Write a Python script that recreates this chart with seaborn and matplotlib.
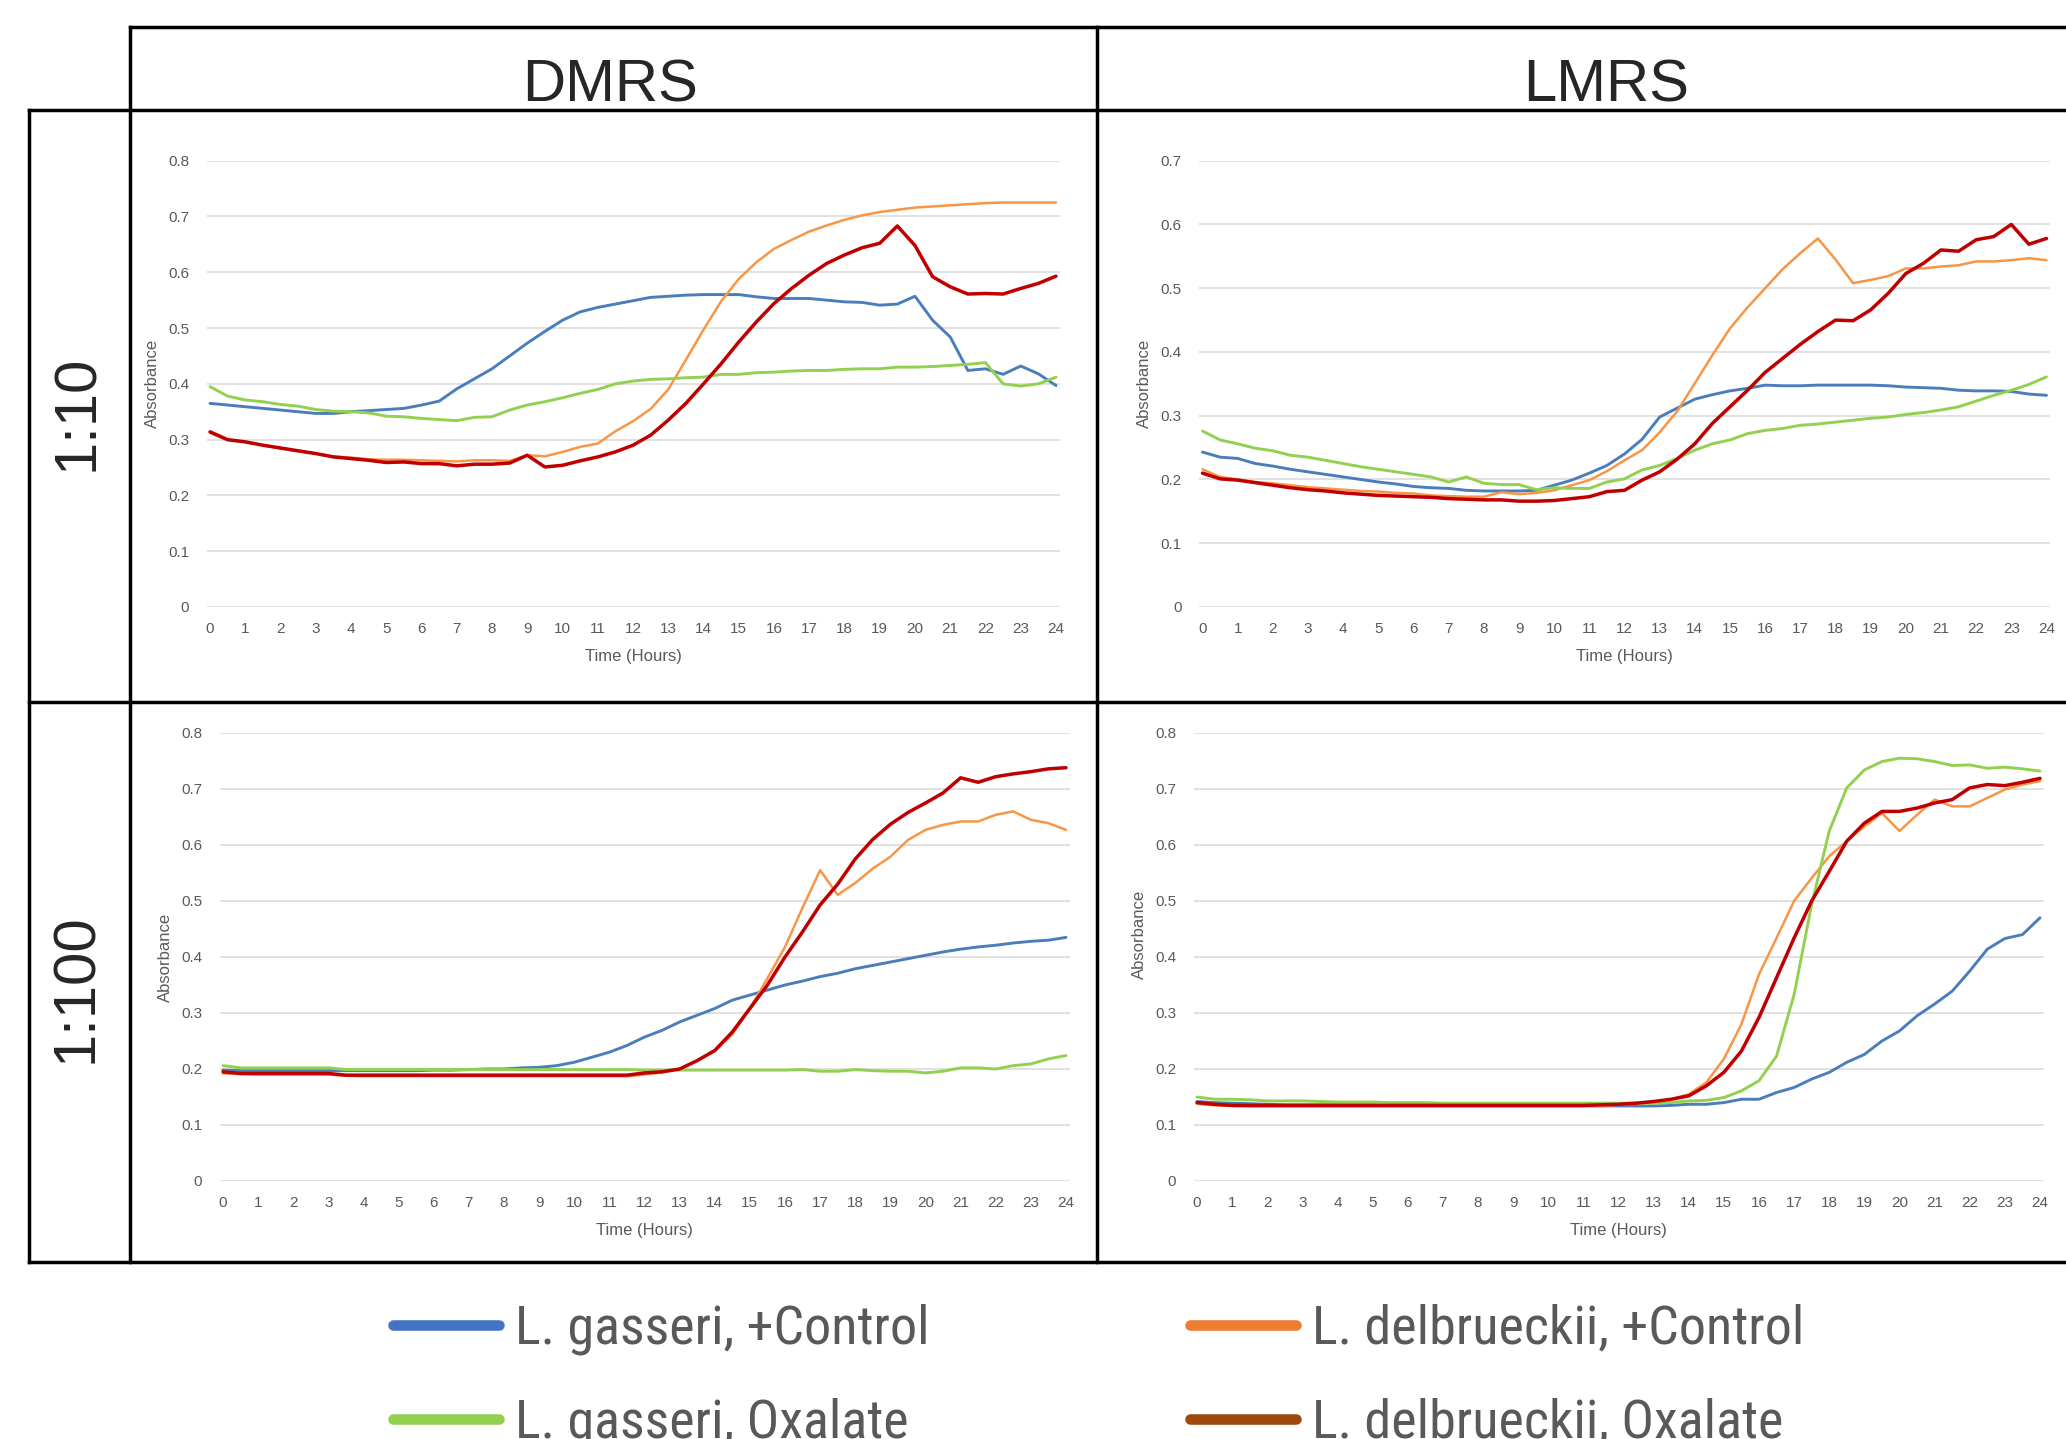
import numpy as np
import pandas as pd
import matplotlib
matplotlib.use("Agg")
import matplotlib.pyplot as plt
from matplotlib import font_manager
from matplotlib.font_manager import FontProperties
from matplotlib.lines import Line2D
import seaborn as sns

# Sampling grid (hours), readings every half hour
hours = np.arange(0, 24.5, 0.5)

series_names = ["L. gasseri, +Control", "L. delbrueckii, +Control",
                "L. gasseri, Oxalate", "L. delbrueckii, Oxalate"]

# DMRS, 1:10
blue_tl = [0.365, 0.362, 0.359, 0.356, 0.353, 0.350, 0.347, 0.347, 0.350, 0.352,
           0.354, 0.356, 0.362, 0.369, 0.391, 0.409, 0.427, 0.450, 0.473, 0.494,
           0.514, 0.529, 0.537, 0.543, 0.549, 0.555, 0.557, 0.559, 0.560, 0.560,
           0.560, 0.556, 0.553, 0.553, 0.553, 0.550, 0.547, 0.546, 0.541, 0.543,
           0.557, 0.514, 0.484, 0.424, 0.427, 0.417, 0.432, 0.418, 0.397]
orange_tl = [0.312, 0.299, 0.296, 0.290, 0.284, 0.279, 0.275, 0.270, 0.268, 0.265,
             0.264, 0.264, 0.263, 0.262, 0.261, 0.263, 0.263, 0.262, 0.272, 0.270,
             0.278, 0.287, 0.293, 0.315, 0.333, 0.355, 0.390, 0.443, 0.497, 0.548,
             0.588, 0.618, 0.642, 0.658, 0.673, 0.684, 0.694, 0.702, 0.708, 0.712,
             0.716, 0.718, 0.720, 0.722, 0.724, 0.725, 0.725, 0.725, 0.725]
green_tl = [0.395, 0.378, 0.371, 0.368, 0.363, 0.360, 0.354, 0.351, 0.350, 0.348,
            0.342, 0.341, 0.338, 0.336, 0.334, 0.340, 0.341, 0.353, 0.362, 0.368,
            0.375, 0.383, 0.390, 0.400, 0.405, 0.408, 0.409, 0.411, 0.412, 0.417,
            0.417, 0.420, 0.421, 0.423, 0.424, 0.424, 0.426, 0.427, 0.427, 0.430,
            0.430, 0.431, 0.433, 0.435, 0.438, 0.400, 0.396, 0.400, 0.412]
red_tl = [0.314, 0.300, 0.296, 0.290, 0.285, 0.280, 0.275, 0.269, 0.266, 0.263,
          0.259, 0.260, 0.257, 0.257, 0.253, 0.256, 0.256, 0.258, 0.272, 0.251,
          0.254, 0.262, 0.269, 0.278, 0.290, 0.308, 0.335, 0.365, 0.400, 0.436,
          0.475, 0.511, 0.544, 0.571, 0.595, 0.616, 0.631, 0.644, 0.652, 0.683,
          0.648, 0.592, 0.574, 0.561, 0.562, 0.561, 0.571, 0.580, 0.593]

# LMRS, 1:10
blue_tr = [0.243, 0.235, 0.233, 0.225, 0.221, 0.216, 0.212, 0.208, 0.204, 0.200,
           0.196, 0.193, 0.189, 0.187, 0.186, 0.183, 0.182, 0.182, 0.182, 0.183,
           0.191, 0.199, 0.210, 0.222, 0.240, 0.263, 0.298, 0.312, 0.326, 0.333,
           0.339, 0.343, 0.348, 0.347, 0.347, 0.348, 0.348, 0.348, 0.348, 0.347,
           0.345, 0.344, 0.343, 0.340, 0.339, 0.339, 0.338, 0.334, 0.332]
orange_tr = [0.216, 0.204, 0.200, 0.196, 0.194, 0.191, 0.188, 0.186, 0.184, 0.182,
             0.181, 0.179, 0.178, 0.175, 0.174, 0.173, 0.173, 0.180, 0.177, 0.179,
             0.183, 0.191, 0.199, 0.213, 0.230, 0.246, 0.274, 0.307, 0.351, 0.395,
             0.437, 0.470, 0.500, 0.530, 0.555, 0.578, 0.545, 0.508, 0.513, 0.519,
             0.531, 0.531, 0.534, 0.536, 0.542, 0.542, 0.544, 0.547, 0.544]
green_tr = [0.276, 0.262, 0.256, 0.249, 0.245, 0.238, 0.235, 0.230, 0.225, 0.220,
            0.216, 0.212, 0.208, 0.204, 0.196, 0.204, 0.194, 0.192, 0.192, 0.184,
            0.187, 0.186, 0.186, 0.196, 0.201, 0.215, 0.222, 0.233, 0.246, 0.256,
            0.262, 0.272, 0.277, 0.280, 0.285, 0.287, 0.290, 0.293, 0.296, 0.298,
            0.302, 0.305, 0.309, 0.314, 0.323, 0.332, 0.340, 0.349, 0.361]
red_tr = [0.210, 0.201, 0.199, 0.195, 0.191, 0.187, 0.184, 0.182, 0.179, 0.177,
          0.175, 0.174, 0.173, 0.172, 0.170, 0.169, 0.168, 0.168, 0.166, 0.166,
          0.167, 0.170, 0.173, 0.181, 0.183, 0.199, 0.212, 0.232, 0.256, 0.288,
          0.314, 0.340, 0.368, 0.390, 0.412, 0.432, 0.450, 0.449, 0.466, 0.492,
          0.523, 0.539, 0.560, 0.558, 0.576, 0.581, 0.600, 0.569, 0.578]

# DMRS, 1:100
blue_bl = [0.198, 0.197, 0.197, 0.197, 0.197, 0.197, 0.197, 0.197, 0.197, 0.197,
           0.197, 0.197, 0.198, 0.198, 0.199, 0.200, 0.200, 0.202, 0.203, 0.206,
           0.212, 0.221, 0.230, 0.242, 0.257, 0.269, 0.284, 0.296, 0.308, 0.323,
           0.332, 0.341, 0.350, 0.357, 0.365, 0.371, 0.379, 0.385, 0.391, 0.397,
           0.403, 0.409, 0.414, 0.418, 0.421, 0.425, 0.428, 0.430, 0.435]
orange_bl = [0.192, 0.191, 0.190, 0.190, 0.190, 0.190, 0.190, 0.188, 0.187, 0.187,
             0.187, 0.187, 0.187, 0.187, 0.187, 0.187, 0.187, 0.187, 0.187, 0.187,
             0.187, 0.187, 0.187, 0.187, 0.190, 0.194, 0.200, 0.215, 0.232, 0.262,
             0.308, 0.362, 0.418, 0.488, 0.555, 0.511, 0.532, 0.558, 0.579, 0.609,
             0.627, 0.636, 0.642, 0.642, 0.654, 0.660, 0.645, 0.639, 0.627]
green_bl = [0.206, 0.202, 0.202, 0.202, 0.202, 0.202, 0.202, 0.199, 0.199, 0.199,
            0.199, 0.199, 0.199, 0.199, 0.199, 0.199, 0.199, 0.199, 0.199, 0.199,
            0.199, 0.199, 0.199, 0.199, 0.198, 0.198, 0.198, 0.198, 0.198, 0.198,
            0.198, 0.198, 0.198, 0.199, 0.196, 0.196, 0.199, 0.197, 0.196, 0.196,
            0.193, 0.196, 0.202, 0.202, 0.200, 0.206, 0.209, 0.218, 0.224]
red_bl = [0.195, 0.192, 0.192, 0.192, 0.192, 0.192, 0.192, 0.189, 0.189, 0.189,
          0.189, 0.189, 0.189, 0.189, 0.189, 0.189, 0.189, 0.189, 0.189, 0.189,
          0.189, 0.189, 0.189, 0.189, 0.193, 0.195, 0.200, 0.215, 0.233, 0.266,
          0.308, 0.350, 0.400, 0.445, 0.493, 0.530, 0.575, 0.610, 0.637, 0.658,
          0.675, 0.693, 0.720, 0.712, 0.722, 0.727, 0.731, 0.736, 0.738]

# LMRS, 1:100
blue_br = [0.142, 0.140, 0.139, 0.138, 0.137, 0.136, 0.136, 0.136, 0.136, 0.136,
           0.136, 0.135, 0.135, 0.135, 0.135, 0.135, 0.135, 0.135, 0.135, 0.135,
           0.135, 0.135, 0.135, 0.134, 0.134, 0.134, 0.134, 0.135, 0.137, 0.137,
           0.140, 0.146, 0.146, 0.158, 0.167, 0.182, 0.194, 0.212, 0.226, 0.250,
           0.268, 0.295, 0.316, 0.339, 0.375, 0.414, 0.433, 0.440, 0.470]
orange_br = [0.138, 0.135, 0.134, 0.133, 0.133, 0.133, 0.133, 0.133, 0.133, 0.133,
             0.133, 0.133, 0.133, 0.133, 0.133, 0.133, 0.133, 0.133, 0.133, 0.133,
             0.133, 0.133, 0.133, 0.134, 0.136, 0.138, 0.141, 0.146, 0.155, 0.176,
             0.218, 0.280, 0.369, 0.434, 0.500, 0.541, 0.580, 0.607, 0.633, 0.657,
             0.625, 0.654, 0.681, 0.669, 0.669, 0.684, 0.699, 0.708, 0.714]
green_br = [0.150, 0.146, 0.146, 0.145, 0.143, 0.143, 0.143, 0.142, 0.141, 0.141,
            0.141, 0.140, 0.140, 0.140, 0.139, 0.139, 0.139, 0.139, 0.139, 0.139,
            0.139, 0.139, 0.139, 0.139, 0.139, 0.139, 0.139, 0.140, 0.143, 0.144,
            0.149, 0.161, 0.179, 0.223, 0.333, 0.494, 0.625, 0.702, 0.734, 0.749,
            0.755, 0.754, 0.749, 0.742, 0.743, 0.737, 0.739, 0.736, 0.732]
red_br = [0.140, 0.137, 0.135, 0.135, 0.135, 0.135, 0.135, 0.135, 0.135, 0.135,
          0.135, 0.135, 0.135, 0.135, 0.135, 0.135, 0.135, 0.135, 0.135, 0.135,
          0.135, 0.135, 0.135, 0.136, 0.137, 0.139, 0.142, 0.146, 0.152, 0.170,
          0.194, 0.232, 0.292, 0.363, 0.434, 0.500, 0.553, 0.607, 0.639, 0.660,
          0.660, 0.666, 0.675, 0.681, 0.702, 0.708, 0.706, 0.712, 0.719]

line_colors = dict(zip(series_names, ["#4A7EBB", "#F79646", "#92D050", "#C00000"]))
line_widths = dict(zip(series_names, [2.1, 1.8, 2.1, 2.5]))
legend_colors = ["#4472C4", "#ED7D31", "#92D050", "#9E480E"]

sns.set_style("white")
plt.rcParams["font.family"] = ["Liberation Sans", "DejaVu Sans"]

W, H = 2066, 1439
fig = plt.figure(figsize=(W / 100, H / 100), dpi=100)


def px_rect(left, top, right, bottom):
    return [left / W, 1 - bottom / H, (right - left) / W, (bottom - top) / H]


panels = [
    # values, axes box in px (l, t, r, b), y max, ylabel y position
    ([blue_tl, orange_tl, green_tl, red_tl], (206.5, 160.7, 1059.5, 607), 0.8, 0.5),
    ([blue_tr, orange_tr, green_tr, red_tr], (1199, 160.7, 2050, 607), 0.7, 0.5),
    ([blue_bl, orange_bl, green_bl, red_bl], (219.5, 733, 1069.5, 1181), 0.8, 0.5),
    ([blue_br, orange_br, green_br, red_br], (1193.5, 733, 2043.5, 1181), 0.8, 0.55),
]

grey = "#595959"
for values, (l, t, r, b), ymax, ylab_y in panels:
    ax = fig.add_axes(px_rect(l, t, r, b))
    df = pd.DataFrame({"Time (Hours)": hours})
    for name, vals in zip(series_names, values):
        df[name] = vals
    long = df.melt(id_vars="Time (Hours)", var_name="Series", value_name="Absorbance")
    sns.lineplot(data=long, x="Time (Hours)", y="Absorbance", hue="Series",
                 size="Series", hue_order=series_names, size_order=series_names,
                 palette=line_colors, sizes=line_widths, legend=False, ax=ax)
    ax.set_xlim(-0.1, 24.1)
    ax.set_ylim(0, ymax)
    ax.set_xticks(range(25))
    yt = np.round(np.arange(0, ymax + 0.001, 0.1), 1)
    ax.set_yticks(yt)
    ax.set_yticklabels([f"{v:g}" for v in yt])
    ax.grid(axis="y", color="#D9D9D9", linewidth=1.1)
    ax.grid(axis="x", visible=False)
    sns.despine(ax=ax, left=True, bottom=True)
    ax.tick_params(axis="both", length=0, labelsize=11, colors=grey)
    ax.tick_params(axis="x", pad=10.5)
    ax.tick_params(axis="y", pad=12.5)
    h = b - t
    ax.set_xlabel("Time (Hours)", fontsize=12, color=grey)
    ax.xaxis.set_label_coords(0.5, -42 / h)
    ax.set_ylabel("Absorbance", fontsize=12, color=grey)
    ax.yaxis.set_label_coords(-47 / (r - l), ylab_y)

# table frame
frame = [
    ((130, 27), (2066, 27)),
    ((29, 110), (2066, 110)),
    ((29, 702), (2066, 702)),
    ((29, 1262), (2066, 1262)),
    ((29, 110), (29, 1262)),
    ((130, 27), (130, 1262)),
    ((1097, 27), (1097, 1262)),
]
for (x0, y0), (x1, y1) in frame:
    fig.add_artist(Line2D([x0 / W, x1 / W], [1 - y0 / H, 1 - y1 / H],
                          transform=fig.transFigure, color="black",
                          lw=2.5, solid_capstyle="projecting"))

fig.text(610 / W, 1 - 102 / H, "DMRS", ha="center", va="baseline", fontsize=43)
fig.text(1606 / W, 1 - 102 / H, "LMRS", ha="center", va="baseline", fontsize=43)
fig.text(93 / W, 1 - 413 / H, "1:10", rotation=90, rotation_mode="anchor",
         ha="center", va="baseline", fontsize=43)
fig.text(92 / W, 1 - 988 / H, "1:100", rotation=90, rotation_mode="anchor",
         ha="center", va="baseline", fontsize=43)


# legend font: a narrow sans if one is installed
def find_narrow():
    entries = font_manager.fontManager.ttflist
    prefs = ["Liberation Sans Narrow", "Roboto Condensed", "Open Sans Condensed",
             "Noto Sans Condensed", "DejaVu Sans Condensed"]
    for p in prefs:
        for f in entries:
            if f.name == p and f.style == "normal" and f.weight in (400, "normal", "regular"):
                return f.fname
    for f in entries:
        if (f.stretch in ("condensed", "semi-condensed") and f.style == "normal"
                and f.weight in (400, "normal", "regular")
                and "Mono" not in f.name and "Serif" not in f.name):
            return f.fname
    return None


narrow = find_narrow()
if narrow:
    leg_prop = FontProperties(fname=narrow, size=39)
else:
    leg_prop = FontProperties(family="Liberation Sans", size=36)
fs = leg_prop.get_size_in_points() * 100 / 72
leg_lw = 7.6
cap = leg_lw * 100 / 72 / 2

renderer = fig.canvas.get_renderer()
probe = fig.text(0, 0, series_names[0], fontproperties=leg_prop)
bb = probe.get_window_extent(renderer)
probe.remove()
col1_width, text_h = bb.width, bb.height

handle_len = (510 - cap) - (393 + cap)
handles = [Line2D([], [], color=c, lw=leg_lw, solid_capstyle="round") for c in legend_colors]
order = [0, 2, 1, 3]
leg = fig.legend([handles[i] for i in order], [series_names[i] for i in order],
                 ncol=2, loc="upper left", bbox_to_anchor=(398 / W, 1 - 1292 / H),
                 frameon=False, borderpad=0, borderaxespad=0,
                 handlelength=handle_len / fs,
                 handletextpad=(520 - (510 - cap)) / fs,
                 columnspacing=((1190 + cap) - 520 - col1_width) / fs,
                 labelspacing=(94 - text_h) / fs, labelcolor=grey, prop=leg_prop)

# nudge so the first legend line sits where the reference has it
fig.canvas.draw()
hb = leg.legend_handles[0].get_window_extent(fig.canvas.get_renderer())
dx = 393 - hb.x0
dy = (H - 1325) - (hb.y0 + hb.y1) / 2
leg.set_bbox_to_anchor((398 / W + dx / W, 1 - 1292 / H + dy / H), transform=fig.transFigure)

plt.savefig("out.png", dpi=100)
